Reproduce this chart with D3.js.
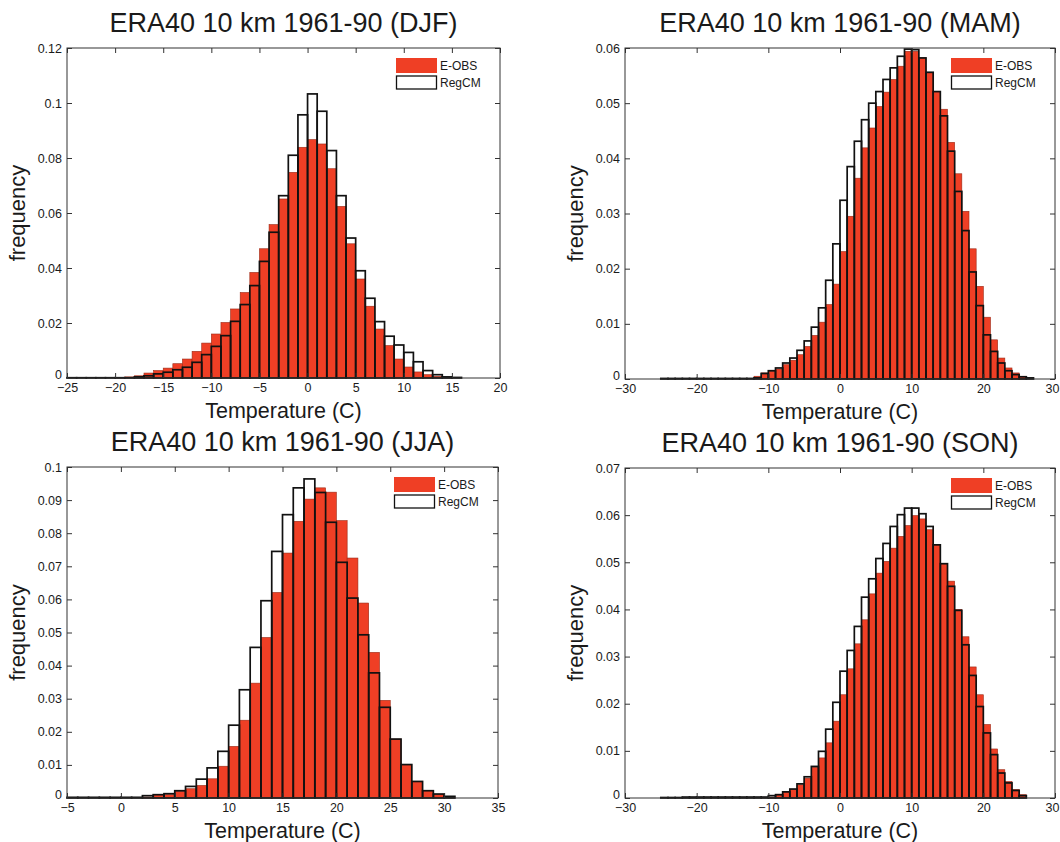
<!DOCTYPE html>
<html><head><meta charset="utf-8">
<script src="https://cdn.jsdelivr.net/npm/d3@7"></script>
<style>
html,body{margin:0;padding:0;background:#fff;}
svg{display:block;font-family:"Liberation Sans",Arial,Helvetica,sans-serif;}
</style></head><body>
<svg id="chart" width="1060" height="842"></svg>
<script>
// ---------------- DATA ----------------
const seasons = ["DJF", "MAM", "JJA", "SON"];
const titlePrefix = "ERA40 10 km 1961-90";
const seriesNames = ["E-OBS", "RegCM"];
const xLabel = "Temperature (C)";
const yLabel = "frequency";

// DJF: 1-degree bins starting at -25
const djfBinStart = -25;
const djfEOBS = [0,0,0,0,0,0.0002,0.0004,0.0008,0.0018,0.0027,0.0036,0.0052,0.0069,0.0097,0.0127,0.016,0.0202,0.0251,0.0311,0.0384,0.047,0.0558,0.0651,0.0748,0.0839,0.0867,0.0851,0.0761,0.0624,0.0488,0.036,0.0261,0.0178,0.0118,0.0069,0.004,0.0022,0.0012,0.0006,0.0001,0];
const djfRegCM = [0.0001,0.0001,0.0001,0.0001,0.0001,0.0001,0.0001,0.0004,0.0008,0.0015,0.0021,0.003,0.0039,0.0057,0.0085,0.0115,0.0154,0.0206,0.0267,0.0336,0.0424,0.053,0.0663,0.081,0.0957,0.1033,0.097,0.0827,0.0663,0.0509,0.039,0.029,0.0205,0.0152,0.012,0.0093,0.0059,0.0027,0.0012,0.0004,0.0002];
const djfXTicks = [-25,-20,-15,-10,-5,0,5,10,15,20];
const djfYTicks = [0,0.02,0.04,0.06,0.08,0.1,0.12];
const djfYTickLabels = ["0","0.02","0.04","0.06","0.08","0.1","0.12"];

// MAM: bins starting at -25
const mamBinStart = -25;
const mamEOBS = [0,0,0,0,0,0,0,0,0,0,0,0,0,0.0005,0.0011,0.0014,0.0018,0.0026,0.0034,0.0044,0.0059,0.0079,0.0103,0.0135,0.0172,0.0231,0.0295,0.0364,0.0419,0.0455,0.0494,0.052,0.0543,0.0567,0.0594,0.0594,0.0582,0.0555,0.0521,0.0489,0.0429,0.0372,0.0304,0.0236,0.0168,0.0112,0.0071,0.0038,0.002,0.0011,0.0005,0];
const mamRegCM = [0.0001,0.0001,0.0001,0.0001,0.0001,0.0001,0.0001,0.0001,0.0001,0.0001,0.0001,0.0001,0.0001,0.0002,0.001,0.0015,0.002,0.0029,0.0038,0.0052,0.0069,0.0094,0.0129,0.0179,0.0245,0.0324,0.0385,0.0431,0.047,0.05,0.0521,0.0543,0.0564,0.0585,0.0598,0.0597,0.0582,0.0556,0.0521,0.0477,0.0413,0.034,0.0269,0.0194,0.0133,0.008,0.005,0.0029,0.0015,0.0008,0.0004,0.0002];
const mamXTicks = [-30,-20,-10,0,10,20,30];
const mamYTicks = [0,0.01,0.02,0.03,0.04,0.05,0.06];
const mamYTickLabels = ["0","0.01","0.02","0.03","0.04","0.05","0.06"];

// JJA: bins starting at -5
const jjaBinStart = -5;
const jjaEOBS = [0,0,0,0,0,0,0,0.0003,0.001,0.001,0.002,0.0028,0.0038,0.0058,0.0096,0.0156,0.0235,0.0347,0.0485,0.0621,0.074,0.0836,0.0903,0.0937,0.0924,0.0838,0.0725,0.0589,0.044,0.0295,0.0178,0.0101,0.005,0.0022,0.001,0.0003];
const jjaRegCM = [0.0002,0.0002,0.0002,0.0002,0.0002,0.0002,0.0002,0.0007,0.001,0.0013,0.0022,0.0035,0.0057,0.0091,0.0141,0.022,0.0327,0.0455,0.0596,0.0745,0.0856,0.0937,0.0964,0.0923,0.0833,0.0712,0.0604,0.0493,0.0378,0.0274,0.0178,0.0101,0.005,0.0022,0.0012,0.0005];
const jjaXTicks = [-5,0,5,10,15,20,25,30,35];
const jjaYTicks = [0,0.01,0.02,0.03,0.04,0.05,0.06,0.07,0.08,0.09,0.1];
const jjaYTickLabels = ["0","0.01","0.02","0.03","0.04","0.05","0.06","0.07","0.08","0.09","0.1"];

// SON: bins starting at -25
const sonBinStart = -25;
const sonEOBS = [0,0,0,0,0,0,0,0,0,0,0,0,0,0,0,0.0002,0.0008,0.0013,0.0018,0.0028,0.0042,0.0065,0.0085,0.0117,0.0163,0.0219,0.0274,0.0327,0.0378,0.0433,0.0477,0.0502,0.053,0.0555,0.0578,0.0599,0.0592,0.0569,0.0537,0.0497,0.046,0.04,0.0342,0.0278,0.0219,0.0156,0.0104,0.006,0.0035,0.0018,0.0007];
const sonRegCM = [0.0001,0.0001,0.0001,0.0002,0.0002,0.0002,0.0002,0.0002,0.0002,0.0002,0.0002,0.0002,0.0002,0.0002,0.0002,0.0005,0.0007,0.0013,0.0019,0.003,0.0045,0.0067,0.0099,0.0146,0.0203,0.0269,0.0313,0.0364,0.0426,0.0465,0.0508,0.054,0.0576,0.0601,0.0615,0.0615,0.0603,0.0576,0.0537,0.0497,0.0449,0.0398,0.0325,0.026,0.0194,0.0138,0.0092,0.0053,0.0032,0.0016,0.0005];
const sonXTicks = [-30,-20,-10,0,10,20,30];
const sonYTicks = [0,0.01,0.02,0.03,0.04,0.05,0.06,0.07];
const sonYTickLabels = ["0","0.01","0.02","0.03","0.04","0.05","0.06","0.07"];

// ---------------- LAYOUT ----------------
const panels = [
  {season: seasons[0], binStart: djfBinStart, eobs: djfEOBS, reg: djfRegCM, xTicks: djfXTicks, yTicks: djfYTicks, yLabels: djfYTickLabels,
   xDomain: [-25, 20], yDomain: [0, 0.12], box: {left: 67, right: 500, top: 48, bottom: 378}},
  {season: seasons[1], binStart: mamBinStart, eobs: mamEOBS, reg: mamRegCM, xTicks: mamXTicks, yTicks: mamYTicks, yLabels: mamYTickLabels,
   xDomain: [-30, 30], yDomain: [0, 0.06], box: {left: 625, right: 1055, top: 48, bottom: 379}},
  {season: seasons[2], binStart: jjaBinStart, eobs: jjaEOBS, reg: jjaRegCM, xTicks: jjaXTicks, yTicks: jjaYTicks, yLabels: jjaYTickLabels,
   xDomain: [-5, 35], yDomain: [0, 0.1], box: {left: 67, right: 498, top: 467, bottom: 798}},
  {season: seasons[3], binStart: sonBinStart, eobs: sonEOBS, reg: sonRegCM, xTicks: sonXTicks, yTicks: sonYTicks, yLabels: sonYTickLabels,
   xDomain: [-30, 30], yDomain: [0, 0.07], box: {left: 625, right: 1055, top: 468, bottom: 798}}
];

const RED = "#EF3F25";
const TEXT = "#1a1a1a";
const W = 1060;
const svg = d3.select("#chart");

panels.forEach(p => {
  const b = p.box;
  const g = svg.append("g");
  const x = d3.scaleLinear().domain(p.xDomain).range([b.left, b.right]);
  const y = d3.scaleLinear().domain(p.yDomain).range([b.bottom, b.top]);

  // E-OBS filled bars
  g.append("g").selectAll("rect").data(p.eobs).join("rect")
    .attr("x", (d, i) => x(p.binStart + i))
    .attr("width", (d, i) => x(p.binStart + i + 1) - x(p.binStart + i))
    .attr("y", d => y(d))
    .attr("height", d => y(0) - y(d))
    .attr("fill", RED)
    .attr("stroke", "#9a2a16")
    .attr("stroke-width", 0.6);

  // RegCM outline bars
  g.append("g").selectAll("rect").data(p.reg).join("rect")
    .attr("x", (d, i) => x(p.binStart + i))
    .attr("width", (d, i) => x(p.binStart + i + 1) - x(p.binStart + i))
    .attr("y", d => y(d))
    .attr("height", d => y(0) - y(d))
    .attr("fill", "none")
    .attr("stroke", "#111")
    .attr("stroke-width", 1.7);

  // axes (inward ticks, mirrored)
  const fmtY = v => p.yLabels[p.yTicks.indexOf(v)];
  const axB = g.append("g").attr("transform", `translate(0,${b.bottom})`)
    .call(d3.axisBottom(x).tickValues(p.xTicks).tickSize(-5).tickPadding(5).tickFormat(d3.format("d")));
  const axT = g.append("g").attr("transform", `translate(0,${b.top})`)
    .call(d3.axisTop(x).tickValues(p.xTicks).tickSize(-5).tickFormat(""));
  const axL = g.append("g").attr("transform", `translate(${b.left},0)`)
    .call(d3.axisLeft(y).tickValues(p.yTicks).tickSize(-5).tickPadding(5).tickFormat(fmtY));
  const axR = g.append("g").attr("transform", `translate(${b.right},0)`)
    .call(d3.axisRight(y).tickValues(p.yTicks).tickSize(-5).tickFormat(""));
  [axB, axT, axL, axR].forEach(a => {
    a.select(".domain").remove();
    a.selectAll("line").attr("stroke", "#333");
    a.selectAll("text").attr("font-size", 12.5).attr("fill", TEXT)
      .attr("font-family", '"Liberation Sans", Arial, sans-serif');
  });
  // keep the zero y-label clear of the first x-label, and the last x-label inside the page
  axL.selectAll(".tick text").filter(v => v === 0).attr("dy", "0.05em");
  axB.selectAll(".tick").filter(v => x(v) + 8 > W).select("text")
    .attr("text-anchor", "end").attr("dx", W - 1 - x(p.xDomain[1]));

  // box
  g.append("rect").attr("x", b.left).attr("y", b.top)
    .attr("width", b.right - b.left).attr("height", b.bottom - b.top)
    .attr("fill", "none").attr("stroke", "#333").attr("stroke-width", 1);

  // title
  g.append("text").attr("x", (b.left + b.right) / 2).attr("y", b.top - 16)
    .attr("text-anchor", "middle").attr("font-size", 27).attr("fill", TEXT)
    .text(`${titlePrefix} (${p.season})`);
  // x label
  g.append("text").attr("x", (b.left + b.right) / 2).attr("y", b.bottom + 39.5)
    .attr("text-anchor", "middle").attr("font-size", 21.5).attr("fill", TEXT)
    .text(xLabel);
  // y label
  g.append("text")
    .attr("transform", `translate(${b.left - 42},${(b.top + b.bottom) / 2}) rotate(-90)`)
    .attr("text-anchor", "middle").attr("font-size", 22).attr("fill", TEXT)
    .text(yLabel);

  // legend
  const lg = g.append("g").attr("transform", `translate(${b.right - 104},${b.top + 10})`);
  lg.append("rect").attr("x", 0).attr("y", 0).attr("width", 41).attr("height", 15).attr("fill", RED);
  lg.append("rect").attr("x", 0.5).attr("y", 18).attr("width", 40).attr("height", 13)
    .attr("fill", "#fff").attr("stroke", "#111").attr("stroke-width", 1.3);
  lg.append("text").attr("x", 44).attr("y", 12).attr("font-size", 12).attr("fill", TEXT).text(seriesNames[0]);
  lg.append("text").attr("x", 44).attr("y", 29).attr("font-size", 12).attr("fill", TEXT).text(seriesNames[1]);
});
</script>
</body></html>
